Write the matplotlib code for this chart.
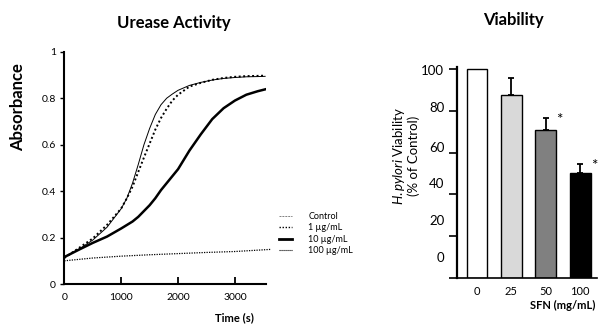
import numpy as np
import matplotlib
matplotlib.use('Agg')
import matplotlib.pyplot as plt
from matplotlib.lines import Line2D

plt.rcParams['font.family'] = ['Lato', 'DejaVu Sans']
plt.rcParams['mathtext.fontset'] = 'custom'
plt.rcParams['mathtext.it'] = 'Lato:italic'
plt.rcParams['mathtext.rm'] = 'Lato'

# Urease activity data (absorbance vs time, s)
time_s = [0, 250, 500, 750, 1000, 1100, 1200, 1300, 1400, 1500, 1600, 1700,
          1800, 1900, 2000, 2200, 2400, 2600, 2800, 3000, 3200, 3400, 3530]
control = [0.117, 0.15, 0.19, 0.245, 0.325, 0.37, 0.435, 0.515, 0.60, 0.67, 0.73,
           0.772, 0.80, 0.818, 0.834, 0.855, 0.868, 0.878, 0.885, 0.889, 0.892,
           0.893, 0.894]
sfn_1 = [0.113, 0.155, 0.197, 0.255, 0.326, 0.37, 0.42, 0.483, 0.545, 0.605, 0.665,
         0.715, 0.755, 0.79, 0.815, 0.85, 0.866, 0.879, 0.887, 0.892, 0.895,
         0.896, 0.897]
sfn_10 = [0.117, 0.148, 0.178, 0.205, 0.24, 0.255, 0.27, 0.29, 0.315, 0.34, 0.37,
          0.405, 0.435, 0.465, 0.495, 0.575, 0.645, 0.71, 0.757, 0.79, 0.815,
          0.83, 0.838]
time_100 = [0, 500, 1000, 1500, 2000, 2500, 3000, 3620]
sfn_100 = [0.101, 0.113, 0.121, 0.127, 0.132, 0.137, 0.141, 0.15]
legend_labels = ['Control', '1 µg/mL', '10 µg/mL', '100 µg/mL']

# Viability data
doses = ['0', '25', '50', '100']
viability = [100, 87.6, 71, 50]
viability_err = [0, 8.4, 5.7, 4.6]
significant = [False, False, True, True]
bar_colors = ['white', '#d9d9d9', '#808080', 'black']
ytick_values = ['0', '20', '40', '60', '80', '100']

fig = plt.figure(figsize=(5.98, 3.24), dpi=100)

# ---- left panel: urease activity ----
ax1 = fig.add_axes([0.1075, 0.1225, 0.3368, 0.718])
ax1.plot(time_s, control, color='black', lw=0.7)
ax1.plot(time_s, sfn_1, color='black', lw=1.4, ls=(0, (1, 1.3)))
ax1.plot(time_s, sfn_10, color='black', lw=1.8)
ax1.plot(time_100, sfn_100, color='black', lw=0.9, ls=(0, (1, 1)), clip_on=False)
ax1.set_xlim(0, 3540)
ax1.set_ylim(0, 1)
ax1.set_xticks([0, 1000, 2000, 3000])
ax1.set_yticks([0, 0.2, 0.4, 0.6, 0.8, 1.0])
ax1.set_yticklabels(['0', '0.2', '0.4', '0.6', '0.8', '1'])
for s in ['top', 'right']:
    ax1.spines[s].set_visible(False)
for s in ['left', 'bottom']:
    ax1.spines[s].set_linewidth(1.5)
ax1.tick_params(axis='y', direction='out', length=3, width=1, labelsize=7.5, pad=3)
ax1.tick_params(axis='x', direction='in', length=5, width=1.3, labelsize=7.5, pad=6)
ax1.set_ylabel('Absorbance', fontsize=12, fontweight='bold')
ax1.yaxis.set_label_coords(-0.19, 0.762)

handles = [Line2D([], [], color='0.5', lw=0.7, ls=(0, (2, 1))),
           Line2D([], [], color='black', lw=1.0, ls=(0, (1, 1.2))),
           Line2D([], [], color='black', lw=2.0),
           Line2D([], [], color='black', lw=0.8, ls=(0, (1, 0.8)))]
fig.legend(handles, legend_labels, loc='upper left', bbox_to_anchor=(0.466, 0.345),
           frameon=False, fontsize=6.5, handlelength=1.5, handletextpad=1.8,
           labelspacing=0.25, borderpad=0, borderaxespad=0)

fig.text(174 / 598, 1 - 23 / 324, 'Urease Activity', ha='center', va='center',
         fontsize=12, fontweight='bold')
fig.text(234 / 598, 1 - 318 / 324, 'Time (s)', ha='center', va='center',
         fontsize=8, fontweight='bold')

# ---- right panel: viability ----
ax2 = fig.add_axes([0.7637, 0.1435, 0.2353, 0.6485])
x = np.arange(len(doses))
ax2.bar(x, viability, width=0.6, color=bar_colors, edgecolor='black', lw=1.0, zorder=2)
ax2.errorbar(x[1:], viability[1:], yerr=[[0] * 3, viability_err[1:]], fmt='none',
             ecolor='black', elinewidth=1.3, capsize=2.5, capthick=1.3, zorder=1)
for i in range(len(doses)):
    if significant[i]:
        ax2.text(i + 0.4, viability[i] + viability_err[i] - 1, '*', fontsize=11,
                 ha='center', va='center')
ax2.set_xlim(-0.59, 3.5)
ax2.set_ylim(0, 101)
ax2.set_xticks(x)
ax2.set_xticklabels(doses)
ax2.set_yticks([0, 20, 40, 60, 80, 100])
ax2.set_yticklabels([])
ax2.set_yticks([10, 27.6, 45.3, 62.7, 81.8, 99.8], minor=True)
ax2.set_yticklabels(ytick_values, minor=True)
ax2.tick_params(axis='y', which='major', direction='out', length=6, width=1.2)
ax2.tick_params(axis='y', which='minor', length=0, labelsize=9.5, pad=9)
ax2.tick_params(axis='x', length=0, labelsize=8, pad=6)
ax2.yaxis.get_major_ticks()[0].tick1line.set_color('#2a6fc0')
for s in ['top', 'right']:
    ax2.spines[s].set_visible(False)
ax2.spines['left'].set_linewidth(1.6)
ax2.spines['bottom'].set_linewidth(1.2)
ax2.set_ylabel(r'$\mathit{H.pylori}$ Viability' + '\n(% of Control)', fontsize=9.5,
               linespacing=1.1)
ax2.yaxis.set_label_coords(-0.26, 0.58)

fig.text(513 / 598, 1 - 20 / 324, 'Viability', ha='center', va='center',
         fontsize=12, fontweight='bold')
fig.text(563 / 598, 1 - 305 / 324, 'SFN (mg/mL)', ha='center', va='center',
         fontsize=8, fontweight='bold')

fig.savefig('out.png', dpi=100)
